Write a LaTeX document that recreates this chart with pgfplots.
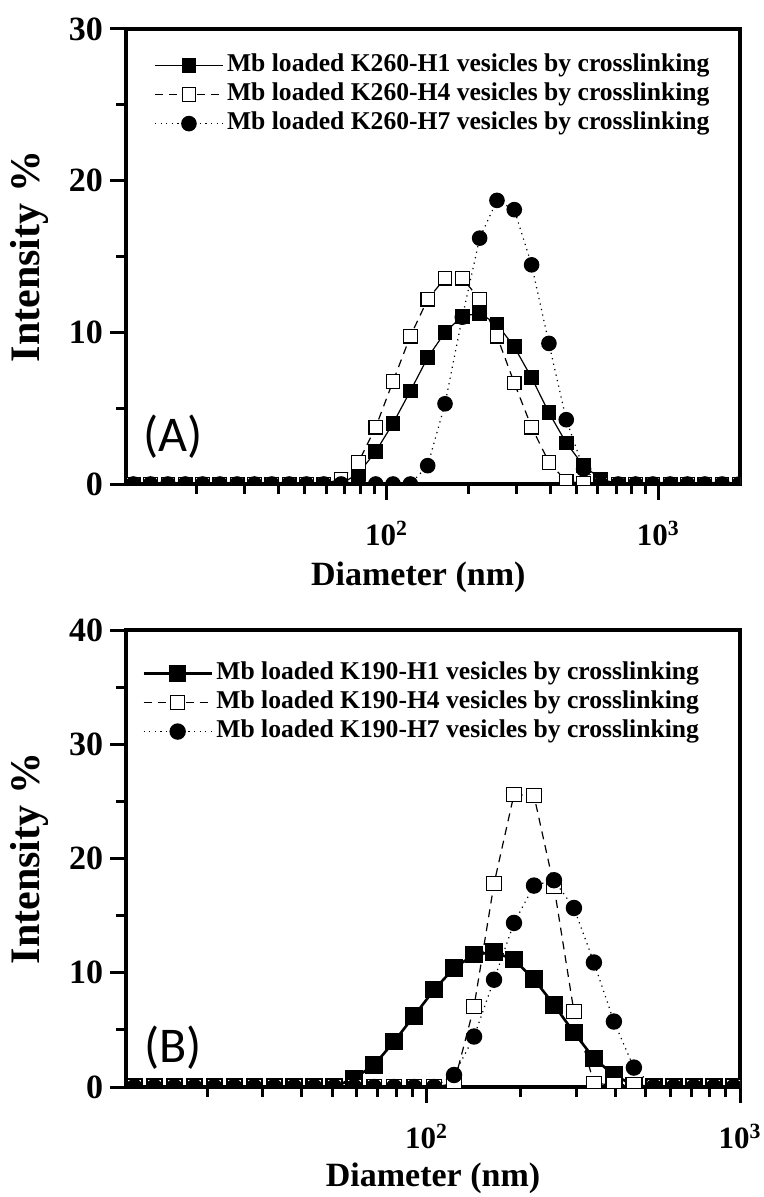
\documentclass[border=0pt]{standalone}
\usepackage{fontspec}
\setmainfont{Liberation Serif}
\newfontfamily\carlito{Carlito}
\usepackage{pgfplots}
\pgfplotsset{compat=1.18}
\usepackage{pgfplotstable}

\pgfplotstableread{
d H1 H4 H7
11.70 0 0 0
13.54 0 0 0
15.69 0 0 0
18.17 0 0 0
21.04 0 0 0
24.36 0 0 0
28.21 0 0 0
32.67 0 0 0
37.84 0 0 0
43.82 0 0 0
50.75 0 0 0
58.77 0 0 0
68.06 0 0.33 0
78.82 0.70 1.43 0
91.28 2.14 3.75 0
105.7 4.00 6.77 0
122.4 6.13 9.75 0
141.8 8.34 12.18 1.21
164.2 10.00 13.57 5.29
190.1 11.07 13.57 11.0
220.2 11.25 12.18 16.21
255.0 10.54 9.75 18.70
295.3 9.04 6.66 18.09
342.0 7.01 3.75 14.45
396.1 4.70 1.43 9.27
458.7 2.71 0.18 4.24
531.2 1.20 0.05 0.99
615.1 0.33 0 0
712.4 0 0 0
825.0 0 0 0
955.4 0 0 0
1106 0 0 0
1281 0 0 0
1484 0 0 0
1718 0 0 0
1990 0 0 0
}\tabA

\pgfplotstableread{
d H1 H4 H7
11.70 0 0 0
13.54 0 0 0
15.69 0 0 0
18.17 0 0 0
21.04 0 0 0
24.36 0 0 0
28.21 0 0 0
32.67 0 0 0
37.84 0 0 0
43.82 0 0 0
50.75 0 0 0
58.77 0.76 0 0
68.06 1.93 0 0
78.82 3.98 0 0
91.28 6.23 0 0
105.7 8.51 0 0
122.4 10.41 0.30 1.05
141.8 11.58 7.05 4.42
164.2 11.81 17.80 9.39
190.1 11.14 25.60 14.36
220.2 9.44 25.50 17.63
255.0 7.19 17.57 18.10
295.3 4.77 6.60 15.67
342.0 2.51 0.30 10.90
396.1 1.05 0.20 5.73
458.7 0.15 0.20 1.70
531.2 0 0 0
615.1 0 0 0
712.4 0 0 0
825.0 0 0 0
955.4 0 0 0
}\tabB

\pgfplotsset{
  dlsaxis/.style={
    scale only axis,
    width=307pt,
    xmin=11,
    ymin=0,
    axis line style={line width=2.2pt},
    tick align=outside,
    tick pos=left,
    major tick length=8pt,
    minor tick length=5pt,
    every tick/.style={black, line width=1.5pt},
    clip marker paths=true,
    yticklabel style={font=\fontsize{17}{18}\selectfont\bfseries},
    xticklabel style={font=\fontsize{15.5}{16}\selectfont\bfseries, yshift=-7pt},
    xtick={100,1000},
    xticklabels={10\textsuperscript{2},10\textsuperscript{3}},
    legend cell align=left,
    legend image code/.code={\draw[mark repeat=2,mark phase=2] plot coordinates {(0pt,0pt) (17pt,0pt) (34pt,0pt)};},
    legend style={draw=none, fill=none, anchor=north west,
      font=\fontsize{12.8}{15}\selectfont\bfseries,
      row sep=1.5pt, inner sep=0pt,
      nodes={inner ysep=0pt, inner xsep=1.75pt, text height=9.5pt, text depth=3.5pt}},
  },
}

\begin{document}
\begin{tikzpicture}
\useasboundingbox (0pt,0pt) rectangle (382pt,-598.5pt);

% ---------- (A) ----------
\begin{semilogxaxis}[dlsaxis,
  at={(63pt,-242pt)}, anchor=south west,
  height=227.5pt,
  xmax=2000,
  ymax=30,
  ytick={0,10,20,30},
  yticklabels={0,10,20,30},
  minor ytick={5,15,25},
  minor xtick={20,30,40,50,60,70,80,90,200,300,400,500,600,700,800,900},
  xlabel={\fontsize{17}{18}\selectfont\bfseries Diameter (nm)},
  ylabel={\fontsize{21}{22}\selectfont\bfseries Intensity \%},
  every axis x label/.style={at={(axis description cs:0.476,-0.206)}, anchor=center},
  every axis y label/.style={at={(axis description cs:-0.157,0.5)}, rotate=90, anchor=center},
  legend style={at={(axis description cs:0.0455,0.949)}},
]
\addplot[black, line width=0.6pt, mark=square*, mark size=3.4pt,
  mark options={solid, fill=black}] table[x=d, y=H1] {\tabA};
\addlegendentry{Mb loaded K260-H1 vesicles by crosslinking}
\addplot[black, line width=0.6pt, dash pattern=on 4pt off 3pt, mark=square*, mark size=3.4pt,
  mark options={solid, fill=white, line width=0.6pt}] table[x=d, y=H4] {\tabA};
\addlegendentry{Mb loaded K260-H4 vesicles by crosslinking}
\addplot[black, line width=0.6pt, dash pattern=on 0.6pt off 2.2pt, mark=*, mark size=3.6pt,
  mark options={solid, fill=black}] table[x=d, y=H7] {\tabA};
\addlegendentry{Mb loaded K260-H7 vesicles by crosslinking}
\node[font=\carlito\fontsize{25}{25}\selectfont] at (rel axis cs:0.077,0.103) {(A)};
\end{semilogxaxis}

% ---------- (B) ----------
\begin{semilogxaxis}[dlsaxis,
  at={(63pt,-543.5pt)}, anchor=south west,
  height=228.5pt,
  xmax=1000,
  ymax=40,
  ytick={0,10,20,30,40},
  yticklabels={0,10,20,30,40},
  minor ytick={5,15,25,35},
  minor xtick={20,30,40,50,60,70,80,90,200,300,400,500,600,700,800,900},
  xlabel={\fontsize{17}{18}\selectfont\bfseries Diameter (nm)},
  ylabel={\fontsize{21}{22}\selectfont\bfseries Intensity \%},
  every axis x label/.style={at={(axis description cs:0.5,-0.199)}, anchor=center},
  every axis y label/.style={at={(axis description cs:-0.157,0.5)}, rotate=90, anchor=center},
  legend style={at={(axis description cs:0.026,0.934)}},
]
\addplot[black, line width=1.3pt, mark=square*, mark size=3.7pt,
  mark options={solid, fill=black}] table[x=d, y=H1] {\tabB};
\addlegendentry{Mb loaded K190-H1 vesicles by crosslinking}
\addplot[black, line width=0.6pt, dash pattern=on 4pt off 3pt, mark=square*, mark size=3.6pt,
  mark options={solid, fill=white, line width=0.6pt}] table[x=d, y=H4] {\tabB};
\addlegendentry{Mb loaded K190-H4 vesicles by crosslinking}
\addplot[black, line width=0.6pt, dash pattern=on 0.6pt off 2.2pt, mark=*, mark size=3.8pt,
  mark options={solid, fill=black}] table[x=d, y=H7] {\tabB};
\addlegendentry{Mb loaded K190-H7 vesicles by crosslinking}
\node[font=\carlito\fontsize{25}{25}\selectfont] at (rel axis cs:0.077,0.085) {(B)};
\end{semilogxaxis}
\end{tikzpicture}
\end{document}
